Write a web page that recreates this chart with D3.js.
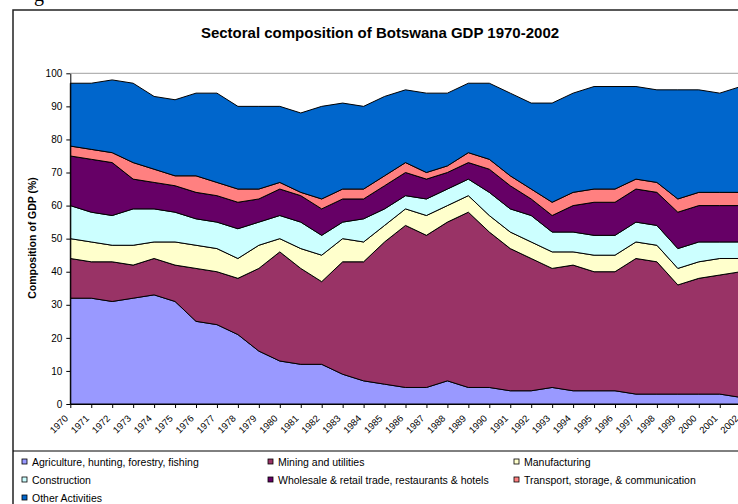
<!DOCTYPE html>
<html>
<head>
<meta charset="utf-8">
<script src="https://cdn.jsdelivr.net/npm/d3@7"></script>
<style>
	body { margin: 0; background: #fff; }
	text { font-family: "Liberation Sans", Arial, sans-serif; }
</style>
</head>
<body>
<script>

var years = ["1970","1971","1972","1973","1974","1975","1976","1977","1978","1979","1980","1981","1982","1983","1984","1985","1986","1987","1988","1989","1990","1991","1992","1993","1994","1995","1996","1997","1998","1999","2000","2001","2002"]

var agriculture   = [32,32,31,32,33,31,25,24,21,16,13,12,12,9,7,6,5,5,7,5,5,4,4,5,4,4,4,3,3,3,3,3,2]
var mining        = [12,11,12,10,11,11,16,16,17,25,33,29,25,34,36,43,49,46,48,53,47,43,40,36,38,36,36,41,40,33,35,36,38]
var manufacturing = [6,6,5,6,5,7,7,7,6,7,4,6,8,7,6,5,5,6,5,5,5,5,5,5,4,5,5,5,5,5,5,5,4]
var construction  = [10,9,9,11,10,9,8,8,9,7,7,8,6,5,7,5,4,5,5,5,7,7,8,6,6,6,6,6,6,6,6,5,5]
var wholesale     = [15,16,16,9,8,8,8,8,8,7,8,8,8,7,6,7,7,6,5,5,7,7,5,5,8,10,10,10,10,11,11,11,11]
var transport     = [3,3,3,5,4,3,5,4,4,3,2,1,3,3,3,3,3,2,2,3,3,3,3,4,4,4,4,3,3,4,4,4,4]
var other         = [19,20,22,24,22,23,25,27,25,25,23,24,28,26,25,24,22,24,22,21,23,25,26,30,30,31,31,28,28,33,31,30,32]

var seriesNames = ["Agriculture, hunting, forestry, fishing", "Mining and utilities", "Manufacturing",
	"Construction", "Wholesale & retail trade, restaurants & hotels", "Transport, storage, & communication",
	"Other Activities"]
var seriesValues = [agriculture, mining, manufacturing, construction, wholesale, transport, other]
var colors = ["#9999ff", "#993366", "#ffffcc", "#ccffff", "#660066", "#ff8080", "#0066cc"]
var yTicks = [0,10,20,30,40,50,60,70,80,90,100]

// rows for d3.stack
var rows = years.map(function(y, i) {
	var r = {year: y}
	seriesNames.forEach(function(n, k) { r[n] = seriesValues[k][i] })
	return r
})

var svg = d3.select("body").append("svg")
	.attr("width", 738)
	.attr("height", 504)

// bit of the page heading above the chart box
svg.append("text")
	.attr("x", 34).attr("y", 0.5)
	.style("font-family", "'Liberation Serif', serif")
	.style("font-size", "20px")
	.text("g")

// chart frame
svg.append("rect")
	.attr("x", 13).attr("y", 10)
	.attr("width", 760).attr("height", 520)
	.attr("fill", "none")
	.attr("stroke", "#222")
	.attr("stroke-width", 1.5)

svg.append("line")
	.attr("x1", 13).attr("x2", 738)
	.attr("y1", 451).attr("y2", 451)
	.attr("stroke", "#000")

svg.append("text")
	.attr("x", 380).attr("y", 38)
	.attr("text-anchor", "middle")
	.style("font-size", "15px")
	.style("font-weight", "bold")
	.text("Sectoral composition of Botswana GDP 1970-2002")

var x = d3.scalePoint().domain(years).range([70.3, 740.7])
var y = d3.scaleLinear().domain([0, 100]).range([404, 73.3])

// top gridline
svg.append("line")
	.attr("x1", 70.3).attr("x2", 738)
	.attr("y1", y(100)).attr("y2", y(100))
	.attr("stroke", "#a0a0a0")

var stack = d3.stack().keys(seriesNames)
var layers = stack(rows)

var area = d3.area()
	.x(function(d) { return x(d.data.year) })
	.y0(function(d) { return y(d[0]) })
	.y1(function(d) { return y(d[1]) })

svg.append("g").selectAll("path")
	.data(layers)
	.enter()
	.append("path")
	.attr("d", area)
	.attr("fill", function(d, i) { return colors[i] })
	.attr("stroke", "#000")
	.attr("stroke-width", 1)
	.attr("stroke-linejoin", "round")

// y axis
var yAxis = svg.append("g")
	.attr("transform", "translate(70.3,0)")
	.call(d3.axisLeft(y).tickValues(yTicks).tickSize(4).tickSizeOuter(0).tickPadding(4))
yAxis.selectAll("text").style("font-size", "10px").attr("fill", "#000")
yAxis.selectAll("line, path").attr("stroke", "#000")

// x axis
var xAxis = svg.append("g")
	.attr("transform", "translate(0,404)")
	.call(d3.axisBottom(x).tickSize(4).tickSizeOuter(0))
xAxis.selectAll("line, path").attr("stroke", "#000")
xAxis.selectAll("text")
	.style("font-size", "9.5px")
	.attr("fill", "#000")
	.attr("text-anchor", "end")
	.attr("dy", null)
	.attr("y", 0)
	.attr("transform", "translate(-2,15) rotate(-45)")

svg.append("text")
	.attr("transform", "translate(36,238) rotate(-90)")
	.attr("text-anchor", "middle")
	.style("font-size", "10.5px")
	.style("font-weight", "bold")
	.text("Composition of GDP (%)")

// legend
var legX = [22, 268, 514]
var legY = [459, 477, 495]

var leg = svg.append("g").selectAll("g")
	.data(seriesNames)
	.enter()
	.append("g")
	.attr("transform", function(d, i) { return "translate(" + legX[i % 3] + "," + legY[Math.floor(i / 3)] + ")" })

leg.append("rect")
	.attr("width", 5).attr("height", 5)
	.attr("fill", function(d, i) { return colors[i] })
	.attr("stroke", "#000")
	.attr("stroke-width", 0.8)

leg.append("text")
	.attr("x", 10).attr("y", 6.5)
	.style("font-size", "10.5px")
	.text(function(d) { return d })

</script>
</body>
</html>
